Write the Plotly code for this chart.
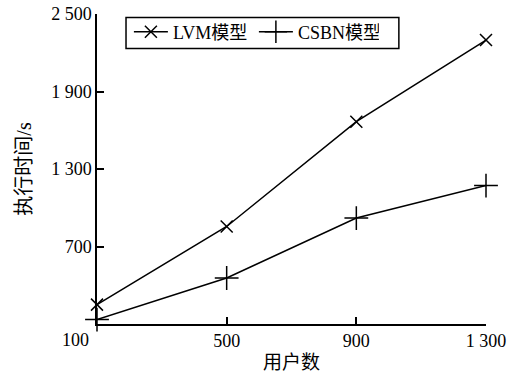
import plotly.graph_objects as go

users = [100, 500, 900, 1300]
lvm_time = [250, 855, 1666, 2298]
csbn_time = [134, 456, 920, 1172]
x_ticks = [100, 500, 900, 1300]
x_tick_text = ["", "500", "900", "1 300"]
y_ticks = [100, 700, 1300, 1900, 2500]
y_tick_text = ["", "700", "1 300", "1 900", "2 500"]
origin_label = "100"

FONT = "Liberation Serif, Times New Roman, Noto Sans CJK SC, serif"

fig = go.Figure()
fig.add_trace(go.Scatter(
    x=users, y=lvm_time, name="LVM模型", mode="lines+markers",
    line=dict(color="black", width=1.5),
    marker=dict(symbol="x-thin", size=12, line=dict(color="black", width=1.5)),
    cliponaxis=False,
))
fig.add_trace(go.Scatter(
    x=users, y=csbn_time, name="CSBN模型", mode="lines+markers",
    line=dict(color="black", width=1.5),
    marker=dict(symbol="cross-thin", size=17, line=dict(color="black", width=1.5)),
    cliponaxis=False,
))

fig.add_annotation(
    x=users[0], y=0, xref="x", yref="paper", text=origin_label,
    showarrow=False, xanchor="center", yanchor="top", xshift=-22, yshift=-4,
    font=dict(family=FONT, size=18, color="black"),
)

# legend frame
fig.add_shape(
    type="rect", xref="paper", yref="paper",
    x0=0.0746, x1=0.776, y0=0.889, y1=0.989,
    line=dict(color="black", width=1.5), fillcolor="white", layer="below",
)

fig.update_layout(
    width=511, height=373,
    margin=dict(l=97, r=25, t=14, b=49, autoexpand=False),
    paper_bgcolor="white", plot_bgcolor="white",
    font=dict(family=FONT, size=18, color="black"),
    showlegend=True,
    legend=dict(
        orientation="h", x=0.082, y=1.0016, xanchor="left", yanchor="top",
        borderwidth=0, bgcolor="rgba(0,0,0,0)",
        font=dict(family=FONT, size=18, color="black"),
        itemwidth=34, tracegroupgap=0, entrywidth=76,
    ),
    xaxis=dict(
        range=[100, 1300], tickvals=x_ticks, ticktext=x_tick_text, automargin=False,
        showgrid=False, zeroline=False, showline=True, linecolor="black", linewidth=1.5,
        ticks="inside", ticklen=7, tickwidth=1.5, tickcolor="black",
        title=dict(text="用户数", standoff=6, font=dict(family=FONT, size=19)),
    ),
    yaxis=dict(
        range=[100, 2500], tickvals=y_ticks, ticktext=y_tick_text, automargin=False,
        showgrid=False, zeroline=False, showline=True, linecolor="black", linewidth=1.5,
        ticks="inside", ticklen=7, tickwidth=1.5, tickcolor="black",
        title=dict(text="执行时间/s", standoff=14, font=dict(family=FONT, size=20)),
    ),
)

fig.write_html(
    "out.html",
    config={"displayModeBar": False},
    post_script="document.body.style.margin='0';document.body.style.overflow='hidden';",
)
